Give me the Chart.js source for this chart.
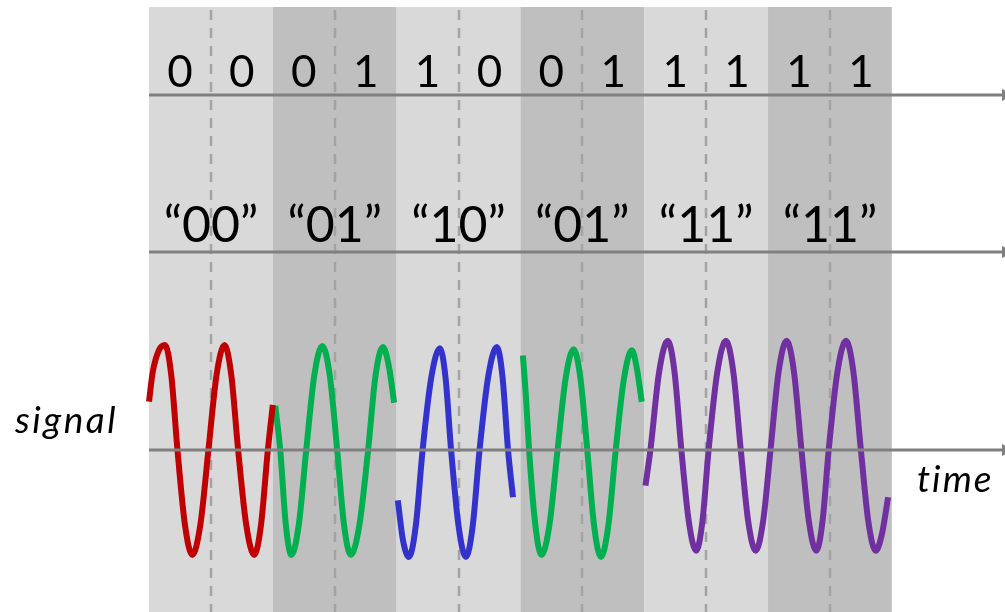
<!DOCTYPE html>
<html>
<head>
<meta charset="utf-8">
<script src="https://cdn.jsdelivr.net/npm/chart.js@4.4.1/dist/chart.umd.min.js"></script>
<style>
  html, body { margin: 0; padding: 0; background: #ffffff; }
  #wrap { width: 1005px; height: 612px; }
</style>
</head>
<body>
<div id="wrap"><canvas id="c" width="1005" height="612"></canvas></div>
<script>
// ---- data (x in symbol periods, y in signal amplitude) ----
const bits = ["0","0","0","1","1","0","0","1","1","1","1","1"];
const symbolLabels = ["\u201C00\u201D","\u201C01\u201D","\u201C10\u201D","\u201C01\u201D","\u201C11\u201D","\u201C11\u201D"];
const bandShades = ["light","dark","light","dark","light","dark"];

// waveform points (ends, peaks, troughs, crossings and mid-slope points)
const seg00  = [[0.00,0.46],[0.03,0.74],[0.08,0.95],[0.13,1.00],[0.18,0.71],[0.23,0],[0.29,-0.71],[0.35,-1.00],[0.415,-0.71],[0.48,0],[0.545,0.71],[0.61,1.00],[0.665,0.71],[0.72,0],[0.785,-0.71],[0.85,-1.00],[0.905,-0.71],[0.96,0],[1.00,0.43]];
const seg01a = [[1.02,0.42],[1.06,0],[1.105,-0.71],[1.15,-1.00],[1.21,-0.71],[1.27,0],[1.335,0.71],[1.40,0.99],[1.46,0.71],[1.52,0],[1.575,-0.71],[1.63,-1.00],[1.70,-0.71],[1.77,0],[1.83,0.71],[1.89,0.98],[1.94,0.78],[1.98,0.45]];
const seg10  = [[2.01,-0.48],[2.05,-0.85],[2.10,-1.02],[2.155,-0.72],[2.21,0],[2.28,0.69],[2.35,0.97],[2.395,0.69],[2.44,0],[2.50,-0.72],[2.56,-1.02],[2.615,-0.72],[2.67,0],[2.74,0.70],[2.81,0.98],[2.855,0.70],[2.90,0],[2.94,-0.45]];
const seg01b = [[3.02,0.90],[3.045,0.50],[3.07,0],[3.12,-0.71],[3.17,-1.00],[3.235,-0.71],[3.30,0],[3.365,0.68],[3.43,0.96],[3.485,0.68],[3.54,0],[3.595,-0.72],[3.65,-1.02],[3.71,-0.72],[3.77,0],[3.835,0.67],[3.90,0.95],[3.94,0.78],[3.98,0.46]];
const seg11  = [[4.01,-0.34],[4.05,0],[4.12,0.74],[4.19,1.04],[4.245,0.74],[4.30,0],[4.36,-0.68],[4.42,-0.96],[4.47,-0.68],[4.52,0],[4.59,0.74],[4.66,1.04],[4.72,0.74],[4.78,0],[4.84,-0.68],[4.90,-0.96],[4.96,-0.68],[5.02,0],[5.085,0.74],[5.15,1.04],[5.21,0.74],[5.27,0],[5.33,-0.68],[5.39,-0.96],[5.44,-0.68],[5.49,0],[5.56,0.74],[5.63,1.04],[5.69,0.74],[5.75,0],[5.81,-0.68],[5.87,-0.96],[5.92,-0.80],[5.97,-0.45]];

const segments = [seg00, seg01a, seg10, seg01b, seg11];
const segmentColors = ["#c00000", "#00b050", "#3333cc", "#00b050", "#7030a0"];

// rows (y in same value units)
const bitRowText = 3.457, bitRowAxis = 3.381;
const symRowText = 1.981, symRowAxis = 1.886;
const signalAxis = 0;
const X_MAX = 6.914, Y_MIN = -1.543, Y_MAX = 4.219;

const decor = {
  id: 'decor',
  beforeDatasetsDraw(chart) {
    const { ctx, chartArea: a, scales: { x, y } } = chart;
    ctx.save();
    bandShades.forEach((s, i) => {
      const x0 = x.getPixelForValue(i), x1 = x.getPixelForValue(i + 1);
      ctx.fillStyle = s === 'light' ? '#d9d9d9' : '#bfbfbf';
      ctx.fillRect(x0, a.top, x1 - x0, a.bottom - a.top);
    });
    ctx.strokeStyle = '#a3a3a3';
    ctx.lineWidth = 2.5;
    ctx.setLineDash([10, 8]);
    bandShades.forEach((s, i) => {
      const px = Math.round(x.getPixelForValue(i + 0.5));
      ctx.beginPath();
      ctx.moveTo(px, a.top + 3);
      ctx.lineTo(px, a.bottom);
      ctx.stroke();
    });
    ctx.setLineDash([]);
    [bitRowAxis, symRowAxis].forEach(v => drawArrow(ctx, x, y, v, a));
    ctx.fillStyle = '#000';
    ctx.textAlign = 'center';
    ctx.textBaseline = 'alphabetic';
    ctx.font = '44px Lato';
    bits.forEach((b, i) => ctx.fillText(b, x.getPixelForValue(0.25 + 0.5 * i), y.getPixelForValue(bitRowText)));
    ctx.font = '50px Lato';
    symbolLabels.forEach((t, i) => ctx.fillText(t, x.getPixelForValue(0.5 + i), y.getPixelForValue(symRowText)));
    ctx.restore();
  },
  afterDatasetsDraw(chart) {
    const { ctx, chartArea: a, scales: { x, y } } = chart;
    ctx.save();
    drawArrow(ctx, x, y, signalAxis, a);
    ctx.fillStyle = '#000';
    ctx.font = 'italic 37px Lato';
    ctx.letterSpacing = '2.5px';
    ctx.textAlign = 'left';
    ctx.fillText('signal', 15, y.getPixelForValue(0.162));
    ctx.letterSpacing = '2px';
    ctx.fillText('time', 917, y.getPixelForValue(-0.4));
    ctx.restore();
  }
};

function drawArrow(ctx, x, y, v, a) {
  const py = y.getPixelForValue(v);
  const x0 = x.getPixelForValue(0), x1 = x.getPixelForValue(X_MAX);
  ctx.strokeStyle = '#808080';
  ctx.lineWidth = 3;
  ctx.beginPath();
  ctx.moveTo(x0, py);
  ctx.lineTo(x1 - 2, py);
  ctx.stroke();
  ctx.fillStyle = '#808080';
  ctx.beginPath();
  ctx.moveTo(x1 - 3, py - 6);
  ctx.lineTo(x1 + 9, py);
  ctx.lineTo(x1 - 3, py + 6);
  ctx.closePath();
  ctx.fill();
}

new Chart(document.getElementById('c'), {
  type: 'line',
  data: {
    datasets: segments.map((seg, i) => ({
      data: seg.map(p => ({ x: p[0], y: p[1] })),
      borderColor: segmentColors[i],
      borderWidth: 6,
      pointRadius: 0,
      fill: false,
      cubicInterpolationMode: 'monotone',
      borderCapStyle: 'butt',
      clip: false
    }))
  },
  options: {
    responsive: false,
    animation: false,
    layout: { padding: { left: 149, top: 7, right: 0, bottom: 0 } },
    scales: {
      x: { type: 'linear', min: 0, max: X_MAX, display: false },
      y: { type: 'linear', min: Y_MIN, max: Y_MAX, display: false }
    },
    plugins: { legend: { display: false }, tooltip: { enabled: false } },
    events: []
  },
  plugins: [decor]
});
</script>
</body>
</html>
